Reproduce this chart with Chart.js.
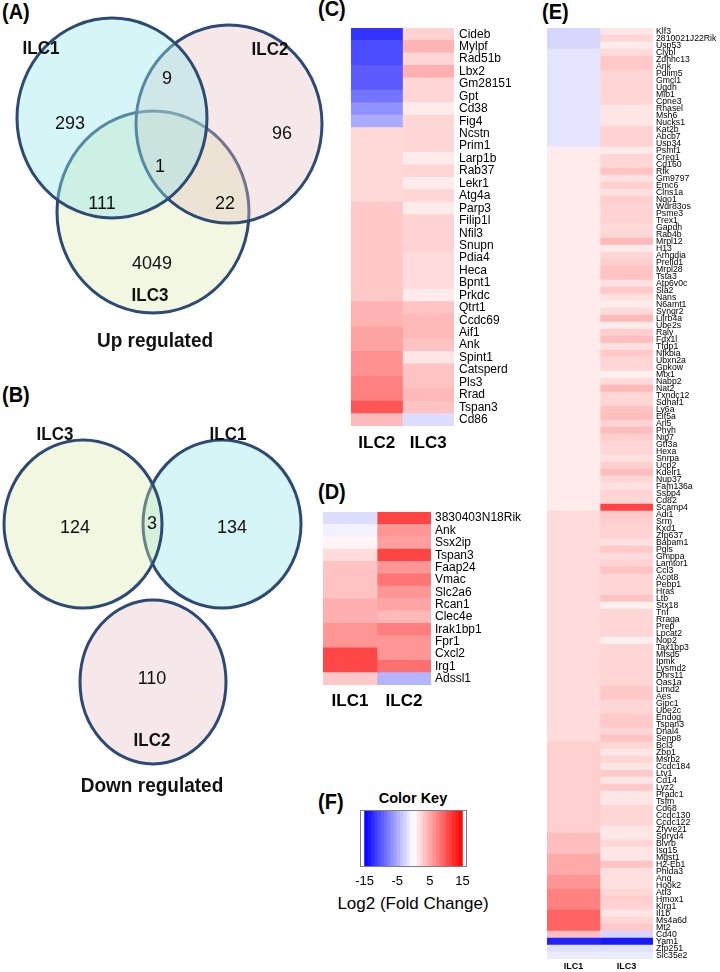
<!DOCTYPE html>
<html><head><meta charset="utf-8">
<script src="https://cdn.jsdelivr.net/npm/chart.js@4/dist/chart.umd.min.js"></script>
<style>
body{margin:0;background:#fff;width:720px;height:972px;overflow:hidden;position:relative;font-family:"Liberation Sans",Arial,sans-serif;}
.box{position:absolute;}
.lbl{position:absolute;font-weight:bold;font-size:20px;color:#000;line-height:1;white-space:nowrap;transform:scaleY(1.06);transform-origin:0 0;}
.key{position:absolute;font-weight:bold;font-size:14.5px;color:#000;line-height:16px;text-align:center;}
.keyx{position:absolute;font-size:17px;color:#000;line-height:18px;text-align:center;white-space:nowrap;}
</style></head><body>
<div class="lbl" style="left:2px;top:1px">(A)</div>
<div class="lbl" style="left:2px;top:384px">(B)</div>
<div class="lbl" style="left:318px;top:-2px">(C)</div>
<div class="lbl" style="left:318px;top:481px">(D)</div>
<div class="lbl" style="left:542px;top:1px">(E)</div>
<div class="lbl" style="left:318px;top:791px">(F)</div>
<div class="key" style="left:353px;top:790px;width:120px">Color Key</div>
<div class="keyx" style="left:313px;top:895px;width:200px">Log2 (Fold Change)</div>
<script>
// ---------------- DATA ----------------
const vennUpSets = ['ILC1', 'ILC2', 'ILC3'];
const vennUpCounts = [293, 9, 96, 1, 111, 22, 4049];
const vennDownSets = ['ILC3', 'ILC1', 'ILC2'];
const vennDownCounts = [124, 3, 134, 110];
const vennTitles = ['Up regulated', 'Down regulated'];

const cColumns = ['ILC2', 'ILC3'];
const cGenes = ['Cideb','Mylpf','Rad51b','Lbx2','Gm28151','Gpt','Cd38','Fig4','Ncstn','Prim1',
  'Larp1b','Rab37','Lekr1','Atg4a','Parp3','Filip1l','Nfil3','Snupn','Pdia4','Heca',
  'Bpnt1','Prkdc','Qtrt1','Ccdc69','Aif1','Ank','Spint1','Catsperd','Pls3','Rrad','Tspan3','Cd86'];
const cILC2 = [-12,-10.6,-10.6,-9.7,-9.7,-8.2,-6.5,-5,2.3,2.3,
  2.3,2.3,2.3,2.3,3.2,3.2,3.2,3.2,3.2,3.2,
  3.2,3.2,4.5,4.5,5.5,5.5,6.5,6.5,7.5,7.5,10,4];
const cILC3 = [2.6,4.4,2.4,4.7,2.4,2.4,1.2,2.4,2.4,2.4,
  1.2,2.4,1.2,2.4,1.2,2.6,2.6,2.6,2.1,2.1,
  2.1,1.2,3.5,4.1,4.1,3.5,1.5,3.5,3.5,4.1,3.5,-2];

const dColumns = ['ILC1', 'ILC2'];
const dGenes = ['3830403N18Rik','Ank','Ssx2ip','Tspan3','Faap24','Vmac','Slc2a6','Rcan1','Clec4e','Irak1bp1','Fpr1','Cxcl2','Irg1','Adssl1'];
const dILC1 = [-2,-0.8,0.6,2,3.5,3.5,3.5,4.7,4.7,6.2,6.2,10.8,10.8,3.2];
const dILC2 = [11,6.2,5.6,11,6.2,8.2,6.2,5.3,4.1,7.6,6.2,6.2,8.5,-4.4];

const eColumns = ['ILC1', 'ILC3'];
const eGenes = ['Klf3','2810021J22Rik','Usp53','Clybl','Zdhhc13','Ank','Pdlim5','Gmcl1','Ugdh','Mib1',
  'Cpne3','Rnasel','Msh6','Nucks1','Kat2b','Abcb7','Usp34','Psmf1','Creg1','Cd160',
  'Rfk','Gm9797','Emc6','Clns1a','Nqo1','Wdr83os','Psme3','Trex1','Gapdh','Rab4b',
  'Mrpl12','H13','Arhgdia','Prelid1','Mrpl28','Tsta3','Atp6v0c','Sla2','Nans','N6amt1',
  'Syngr2','Lilrb4a','Ube2s','Raly','Fdx1l','Tfdp1','Nfkbia','Ubxn2a','Gpkow','Mtx1',
  'Nabp2','Nat2','Txndc12','Sdhaf1','Ly6a','Eif5a','Arl5','Phyh','Nip7','Gtf3a',
  'Hexa','Snrpa','Ucp2','Kdelr1','Nup37','Fam136a','Ssbp4','Cd82','Scamp4','Adi1',
  'Srm','Kxd1','Zfp637','Babam1','Pgls','Gmppa','Lamtor1','Ccl3','Acot8','Pebp1',
  'Hras','Ltb','Stx18','Tnf','Rraga','Prep','Lpcat2','Nop2','Tax1bp3','Mfsd5',
  'Ipmk','Lysmd2','Dhrs11','Oas1a','Limd2','Aes','Gipc1','Ube2c','Endog','Tspan3',
  'Dnal4','Senp8','Bcl3','Zbp1','Msrb2','Ccdc184','Ltv1','Cd14','Lyz2','Pradc1',
  'Tsfm','Cd68','Ccdc130','Ccdc122','Zfyve21','Spryd4','Blvrb','Isg15','Mgst1','H2-Eb1',
  'Phlda3','Ang','Hook2','Atf3','Hmox1','Klrg1','Il1b','Ms4a6d','Mt2','Cd40',
  'Yam1','Zfp251','Slc35e2'];
const eILC1 = [-2.4,-2.4,-2.4,-1.6,-1.6,-1.6,-1.6,-1.6,-1.6,-1.6,
  -1.6,-1.6,-1.6,-1.6,-1.6,-1.6,-1.6,1.2,1.2,1.2,
  1.2,1.2,1.2,1.2,1.2,1.2,1.2,1.2,1.2,1.2,
  1.2,1.2,1.2,1.2,1.2,1.2,1.2,1.2,1.2,1.2,
  1.2,1.2,1.2,1.2,1.2,1.2,1.2,1.2,1.2,1.2,
  1.2,1.2,1.2,1.2,1.2,1.2,1.2,1.2,1.2,1.2,
  1.2,1.2,1.2,1.2,1.2,1.2,1.2,1.2,1.2,2.1,
  2.1,2.1,2.1,2.1,2.1,2.1,2.1,2.1,2.1,2.1,
  2.1,2.1,2.1,2.1,2.1,2.1,2.1,2.1,2.1,2.1,
  2.1,2.1,2.1,2.1,2.1,2.1,2.1,2.1,2.1,2.1,
  2.1,2.1,2.9,2.9,2.9,2.9,2.9,2.9,2.9,2.9,
  2.9,2.9,2.9,2.9,2.9,3.8,3.8,3.8,5.0,5.0,
  5.0,6.2,6.2,7.4,7.4,7.4,9.2,9.2,9.2,3.8,
  -13,-1.8,-1.2];
const eILC3 = [1.5,2.4,1.2,2.1,3.2,3.2,2.4,2.4,2.4,2.4,
  2.4,1.5,1.5,1.5,2.6,2.6,2.6,1.2,2.4,2.4,
  3.5,1.8,2.9,1.8,2.9,2.6,2.6,2.6,2.1,2.4,
  4.1,1.2,2.4,2.9,3.5,3.5,1.8,3.2,1.8,1.2,
  2.1,4.1,1.2,2.9,3.8,1.8,3.2,2.4,2.4,0.9,
  2.1,4.1,2.4,2.4,3.5,3.8,2.6,3.8,2.9,2.4,
  2.4,1.8,2.9,3.8,2.4,1.8,2.6,2.4,11,3.2,
  2.9,2.6,2.6,1.8,3.2,2.1,2.6,3.5,2.4,2.4,
  2.4,3.5,0.9,2.4,2.4,2.4,2.4,0.9,2.4,2.4,
  2.4,2.4,2.4,2.4,3.2,3.2,2.4,2.4,3.2,3.2,
  2.4,3.5,2.4,1.5,2.4,1.5,3.2,1.5,3.2,1.5,
  1.5,2.4,2.4,2.4,1.5,1.5,2.4,1.5,1.5,3.5,
  1.8,1.8,1.8,2.4,2.9,2.6,1.5,2.4,3.2,-2.4,
  -13.5,-1.8,-1.2];

const keyLevels = [-14.5,-13.5,-12.5,-11.5,-10.5,-9.5,-8.5,-7.5,-6.5,-5.5,-4.5,-3.5,-2.5,-1.5,-0.5,
  0.5,1.5,2.5,3.5,4.5,5.5,6.5,7.5,8.5,9.5,10.5,11.5,12.5,13.5,14.5];
const keyTicks = [-15, -5, 5, 15];

// ---------------- STYLE / LAYOUT ----------------
const FONT = '"Liberation Sans", Arial, sans-serif';
const EDGE = '#2d4a74';
const TXT = '#111';
const STRETCH = 1.06; // the figure is slightly taller than wide

function heatColor(v) {
  const t = Math.min(1, Math.abs(v) / 15);
  const c = Math.round(255 * (1 - t));
  return v >= 0 ? `rgb(255,${c},${c})` : `rgb(${c},${c},255)`;
}

function makeCanvas(b) {
  const d = document.createElement('div');
  d.className = 'box';
  Object.assign(d.style, {left: b.left + 'px', top: b.top + 'px', width: b.w + 'px', height: b.h + 'px'});
  const c = document.createElement('canvas');
  c.width = b.w; c.height = b.h;
  c.style.width = b.w + 'px'; c.style.height = b.h + 'px';
  d.appendChild(c);
  document.body.appendChild(d);
  return c;
}

const common = {responsive: false, animation: false, events: [],
  plugins: {legend: {display: false}, tooltip: {enabled: false}}};

const PADTOP = 6;
function heatmap(box, genes, columns, series, st) {
  new Chart(makeCanvas({left: box.left, top: box.top - PADTOP, w: box.w, h: box.h + PADTOP}), {
    type: 'bar',
    data: {labels: genes, datasets: series.map((vals, i) => ({
      label: columns[i], data: vals.map(() => 1), backgroundColor: vals.map(heatColor),
      borderWidth: 0, barPercentage: 1, categoryPercentage: 1, stack: 'cols'}))},
    options: Object.assign({}, common, {
      indexAxis: 'y', layout: {padding: {top: PADTOP, left: 0, right: 0, bottom: 0}, autoPadding: false},
      scales: {
        x: {type: 'linear', stacked: true, min: 0, max: columns.length,
          grid: {display: false, drawTicks: false}, border: {display: false},
          afterBuildTicks: s => { s.ticks = columns.map((c, i) => ({value: i + 0.5})); },
          ticks: {autoSkip: false, maxRotation: 0, color: '#000', padding: st.xPad,
            font: {family: FONT, size: st.xFont, weight: 'bold'},
            callback: v => columns[Math.floor(v)]},
          afterFit: s => { s.height = st.xh; s.paddingLeft = 0; s.paddingRight = 0; }},
        y: {position: 'right', stacked: true, grid: {display: false, drawTicks: false}, border: {display: false},
          ticks: {autoSkip: false, color: '#000', padding: st.yPad, font: {family: FONT, size: st.yFont}},
          afterFit: s => { s.width = st.yw; s.paddingTop = 0; s.paddingBottom = 0; }}
      }
    })
  });
}

// an ellipse marker (set outline) used as the point style of a scatter point
function ellipseSprite(rx, ry, fill) {
  const lw = 3;
  const w = 2 * Math.ceil(rx + lw), h = 2 * Math.ceil(ry + lw);
  const c = document.createElement('canvas');
  c.width = w; c.height = h;
  const g = c.getContext('2d');
  g.beginPath(); g.ellipse(w / 2, h / 2, rx, ry, 0, 0, Math.PI * 2);
  g.fillStyle = fill; g.fill();
  g.lineWidth = lw; g.strokeStyle = EDGE; g.stroke();
  return c;
}

function venn(box, sets, texts) {
  new Chart(makeCanvas(box), {
    type: 'scatter',
    data: {datasets: sets.map(c => ({label: c.name, data: [{x: c.x, y: c.y}],
      pointStyle: ellipseSprite(c.rx, c.ry, c.fill), pointRadius: c.rx, pointHoverRadius: c.rx, clip: false}))},
    options: Object.assign({}, common, {layout: {padding: 0, autoPadding: false},
      scales: {x: {type: 'linear', display: false, min: 0, max: box.w},
               y: {type: 'linear', display: false, min: 0, max: box.h, reverse: true}}}),
    plugins: [{id: 'vennText', afterDatasetsDraw(chart) {
      const ctx = chart.ctx, xs = chart.scales.x, ys = chart.scales.y;
      texts.forEach(t => {
        ctx.save(); ctx.fillStyle = TXT; ctx.textAlign = 'center'; ctx.textBaseline = 'middle'; ctx.font = t.font;
        ctx.translate(xs.getPixelForValue(t.x), ys.getPixelForValue(t.y)); ctx.scale(1, STRETCH);
        ctx.fillText(String(t.text), 0, 0);
        ctx.restore();
      });
    }}]
  });
}

const FILL1 = 'rgba(150,230,235,0.40)';
const FILL2 = 'rgba(230,190,190,0.36)';
const FILL3 = 'rgba(215,232,170,0.36)';
const setFont = `bold 17px ${FONT}`, numFont = `18px ${FONT}`, titleFont = `bold 19px ${FONT}`;

// Venn A (up regulated)
const upSpots = [[70,124],[167,79],[282,134],[160,167],[102,204],[225,204],[152,264]];
venn({left: 0, top: 0, w: 340, h: 380},
  [{name: vennUpSets[0], x: 112, y: 118, rx: 95, ry: 100, fill: FILL1},
   {name: vennUpSets[1], x: 229, y: 124, rx: 93, ry: 99, fill: FILL2},
   {name: vennUpSets[2], x: 153, y: 212, rx: 96, ry: 101, fill: FILL3}],
  [{text: vennUpSets[0], x: 41, y: 49, font: setFont},
   {text: vennUpSets[1], x: 270, y: 50, font: setFont},
   {text: vennUpSets[2], x: 150, y: 296, font: setFont},
   ...vennUpCounts.map((n, i) => ({text: n, x: upSpots[i][0], y: upSpots[i][1], font: numFont})),
   {text: vennTitles[0], x: 155, y: 341, font: titleFont}]);

// Venn B (down regulated)
const downSpots = [[75,148],[152,144],[232,148],[152,299]];
venn({left: 0, top: 380, w: 340, h: 430},
  [{name: vennDownSets[0], x: 83, y: 144, rx: 79, ry: 84, fill: FILL3},
   {name: vennDownSets[1], x: 222, y: 144, rx: 79, ry: 84, fill: FILL1},
   {name: vennDownSets[2], x: 153, y: 302, rx: 73, ry: 82, fill: FILL2}],
  [{text: vennDownSets[0], x: 55, y: 55, font: setFont},
   {text: vennDownSets[1], x: 228, y: 55, font: setFont},
   {text: vennDownSets[2], x: 152, y: 361, font: setFont},
   ...vennDownCounts.map((n, i) => ({text: n, x: downSpots[i][0], y: downSpots[i][1], font: numFont})),
   {text: vennTitles[1], x: 152, y: 406, font: titleFont}]);

// Heatmaps
heatmap({left: 351, top: 28, w: 103 + 90, h: 398 + 35}, cGenes, cColumns, [cILC2, cILC3],
  {yw: 90, xh: 35, yPad: 5, xPad: 7, yFont: 12, xFont: 17});
heatmap({left: 323, top: 512, w: 108 + 95, h: 173 + 30}, dGenes, dColumns, [dILC1, dILC2],
  {yw: 95, xh: 30, yPad: 4, xPad: 6, yFont: 12, xFont: 17});
heatmap({left: 547, top: 28, w: 106 + 67, h: 931 + 13}, eGenes, eColumns, [eILC1, eILC3],
  {yw: 67, xh: 13, yPad: 3, xPad: 2, yFont: 8.7, xFont: 9});

// Colour key: one row of floating bars on a linear value axis
new Chart(makeCanvas({left: 320, top: 810, w: 187, h: 85}), {
  type: 'bar',
  data: {labels: ['key'], datasets: [{
    data: keyLevels.map(v => ({x: [v - 0.5, v + 0.5], y: 'key'})),
    backgroundColor: keyLevels.map(heatColor), borderWidth: 0, barPercentage: 1, categoryPercentage: 1}]},
  options: Object.assign({}, common, {
    indexAxis: 'y',
    layout: {padding: {left: 40, right: 40, top: 0, bottom: 0}, autoPadding: false},
    scales: {
      x: {type: 'linear', min: -16.4, max: 16.4, offset: false, grid: {display: false, drawTicks: false}, border: {display: false},
        afterBuildTicks: s => { s.ticks = keyTicks.map(v => ({value: v})); },
        ticks: {color: '#000', padding: 7, font: {family: FONT, size: 13}, callback: v => String(v), maxRotation: 0, autoSkip: false},
        afterFit: s => { s.height = 28; s.paddingLeft = 0; s.paddingRight = 0; }},
      y: {type: 'category', display: false}
    }
  }),
  plugins: [{id: 'frame', afterDraw(chart) {
    const a = chart.chartArea, ctx = chart.ctx;
    ctx.save(); ctx.strokeStyle = '#808080'; ctx.lineWidth = 1;
    ctx.strokeRect(a.left + 0.5, a.top + 0.5, a.right - a.left - 1, a.bottom - a.top - 1);
    ctx.restore();
  }}]
});
</script>
</body></html>
